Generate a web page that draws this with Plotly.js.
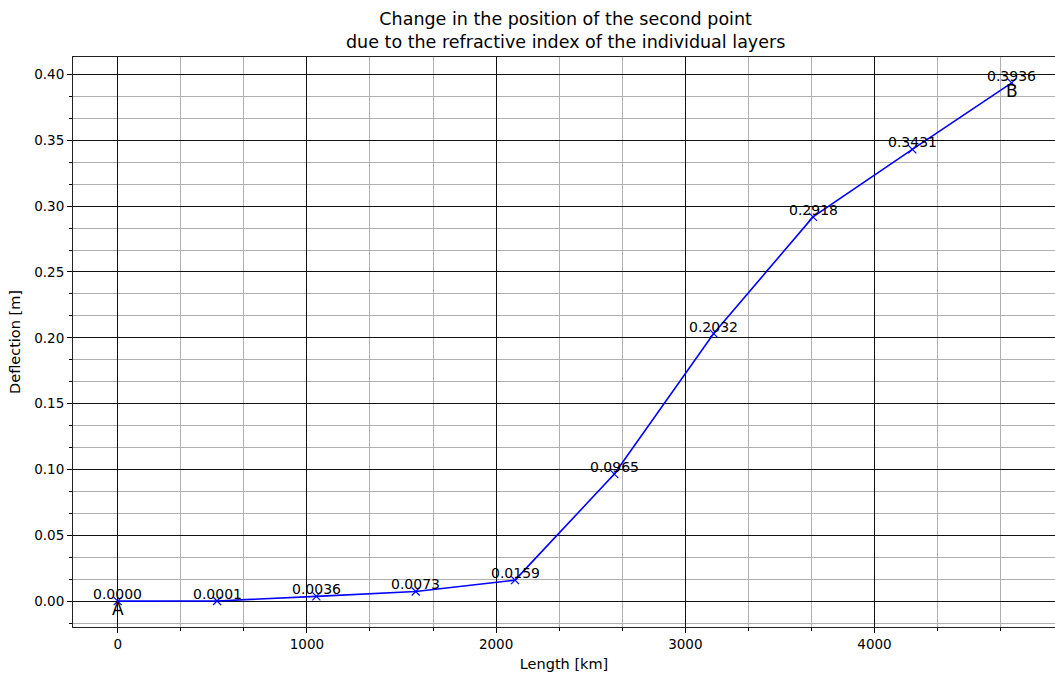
<!DOCTYPE html>
<html>
<head>
<meta charset="utf-8">
<script src="https://cdn.plot.ly/plotly-3.0.1.min.js"></script>
<style>html,body{margin:0;padding:0;overflow:hidden;background:#fff;}</style>
</head>
<body>
<div id="chart" style="width:1055px;height:673px;"></div>
<script>
const lengthKm = [0, 525, 1050, 1575, 2100, 2625, 3150, 3675, 4200, 4725];
const deflection = [0.0000, 0.0001, 0.0036, 0.0073, 0.0159, 0.0965, 0.2032, 0.2918, 0.3431, 0.3936];
const endLabels = ['A', 'B'];
const titleText = 'Change in the position of the second point<br>due to the refractive index of the individual layers';
const xTitle = 'Length [km]';
const yTitle = 'Deflection [m]';

const FONT = 'DejaVu Sans, sans-serif';

const annotations = lengthKm.map((x, i) => ({
  x: x, y: deflection[i], xref: 'x', yref: 'y',
  text: deflection[i].toFixed(4), showarrow: false,
  xanchor: 'center', yanchor: 'bottom', yshift: -3,
  font: {family: FONT, size: 14, color: '#000'}
}));
annotations.push({
  x: lengthKm[0], y: deflection[0], xref: 'x', yref: 'y', text: endLabels[0],
  showarrow: false, xanchor: 'center', yanchor: 'top', yshift: 4,
  font: {family: FONT, size: 17, color: '#000'}
});
annotations.push({
  x: lengthKm[lengthKm.length - 1], y: deflection[deflection.length - 1], xref: 'x', yref: 'y', text: endLabels[1],
  showarrow: false, xanchor: 'center', yanchor: 'top', yshift: 4,
  font: {family: FONT, size: 17, color: '#000'}
});
annotations.push({
  x: 0.5, y: 1, xref: 'paper', yref: 'paper', text: titleText,
  showarrow: false, xanchor: 'center', yanchor: 'bottom', yshift: 3, xshift: 1,
  font: {family: FONT, size: 17.5, color: '#000'}
});

const trace = {
  x: lengthKm, y: deflection, type: 'scatter', mode: 'lines+markers',
  line: {color: '#0000ff', width: 1.6},
  marker: {symbol: 'x-thin', size: 8, color: '#0000ff', line: {color: '#0000ff', width: 1.2}},
  hoverinfo: 'skip'
};

const layout = {
  width: 1055, height: 673,
  margin: {l: 73, r: 0, t: 57, b: 46, pad: 0},
  paper_bgcolor: '#fff', plot_bgcolor: '#fff',
  showlegend: false,
  font: {family: FONT, size: 13, color: '#000'},
  xaxis: {
    range: [-236.25, 4954], zeroline: false,
    tickmode: 'linear', tick0: 0, dtick: 1000,
    ticks: 'outside', ticklen: 5, tickwidth: 1, tickcolor: '#000',
    showline: true, linecolor: '#222', linewidth: 1, mirror: true,
    showgrid: true, gridcolor: '#111', gridwidth: 1,
    minor: {tick0: 0, dtick: 1000/3, ticks: 'outside', ticklen: 3, tickcolor: '#000', showgrid: true, gridcolor: '#b0b0b0', gridwidth: 1},
    tickfont: {family: FONT, size: 13.5, color: '#000'},
    title: {text: xTitle, standoff: 7, font: {family: FONT, size: 14.5, color: '#000'}}
  },
  yaxis: {
    range: [-0.01968, 0.41328], zeroline: false,
    tickmode: 'linear', tick0: 0, dtick: 0.05, tickformat: '.2f',
    ticks: 'outside', ticklen: 5, tickwidth: 1, tickcolor: '#000',
    showline: true, linecolor: '#222', linewidth: 1, mirror: false,
    showgrid: true, gridcolor: '#111', gridwidth: 1,
    minor: {tick0: 0, dtick: 0.05/3, ticks: 'outside', ticklen: 3, tickcolor: '#000', showgrid: true, gridcolor: '#b0b0b0', gridwidth: 1},
    tickfont: {family: FONT, size: 13.5, color: '#000'},
    title: {text: yTitle, standoff: 10, font: {family: FONT, size: 14.5, color: '#000'}}
  },
  annotations: annotations
};

Plotly.newPlot('chart', [trace], layout, {displayModeBar: false, staticPlot: true});
</script>
</body>
</html>
